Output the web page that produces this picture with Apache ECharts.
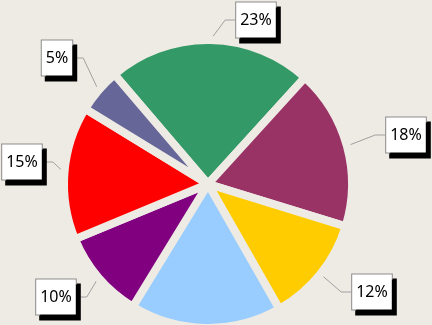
<!DOCTYPE html>
<html><head><meta charset="utf-8">
<script src="https://cdn.jsdelivr.net/npm/echarts@6/dist/echarts.min.js"></script>
<style>html,body{margin:0;padding:0;background:#eeebe5}#c{width:432px;height:325px}</style>
</head><body><div id="c"></div>
<script>
const categories = ['A','B','C','D','E','F','G'];
const values = [23, 18, 12, 17, 10, 15, 5];
const labelsShown = [true, true, true, false, true, true, true];
const colors = ['#339966','#993366','#ffcc00','#99ccff','#800080','#ff0000','#666699'];
// label box centers (layout only)
const labelPos = [[256,20],[406,135],[372,292],null,[56,297],[22,162],[57,58]];

const chart = echarts.init(document.getElementById('c'));
chart.setOption({
  backgroundColor: '#eeebe5',
  animation: false,
  series: [{
    type: 'pie',
    center: [208, 184],
    radius: 144,
    startAngle: 130.5,
    clockwise: true,
    avoidLabelOverlap: false,
    itemStyle: { borderColor: '#eeebe5', borderWidth: 8 },
    label: {
      show: true,
      formatter: p => p.value + '%',
      fontFamily: 'Noto Sans',
      fontSize: 16,
      color: '#000',
      backgroundColor: '#fff',
      borderColor: '#8c8c8c',
      borderWidth: 1,
      padding: [10, 4, 9, 4],
      shadowColor: '#000',
      shadowOffsetX: 4,
      shadowOffsetY: 5,
      shadowBlur: 0
    },
    labelLine: { show: true, length: 12, length2: 10, smooth: false, lineStyle: { color: '#a0a0a0', width: 1 } },
    labelLayout: function (p) {
      const pos = labelPos[p.dataIndex];
      if (!pos) return {};
      return { x: pos[0], y: pos[1], align: 'center', verticalAlign: 'middle' };
    },
    data: categories.map((c, i) => ({
      name: c,
      value: values[i],
      itemStyle: { color: colors[i] },
      label: { show: labelsShown[i] },
      labelLine: { show: labelsShown[i] }
    }))
  }]
});
</script></body></html>
